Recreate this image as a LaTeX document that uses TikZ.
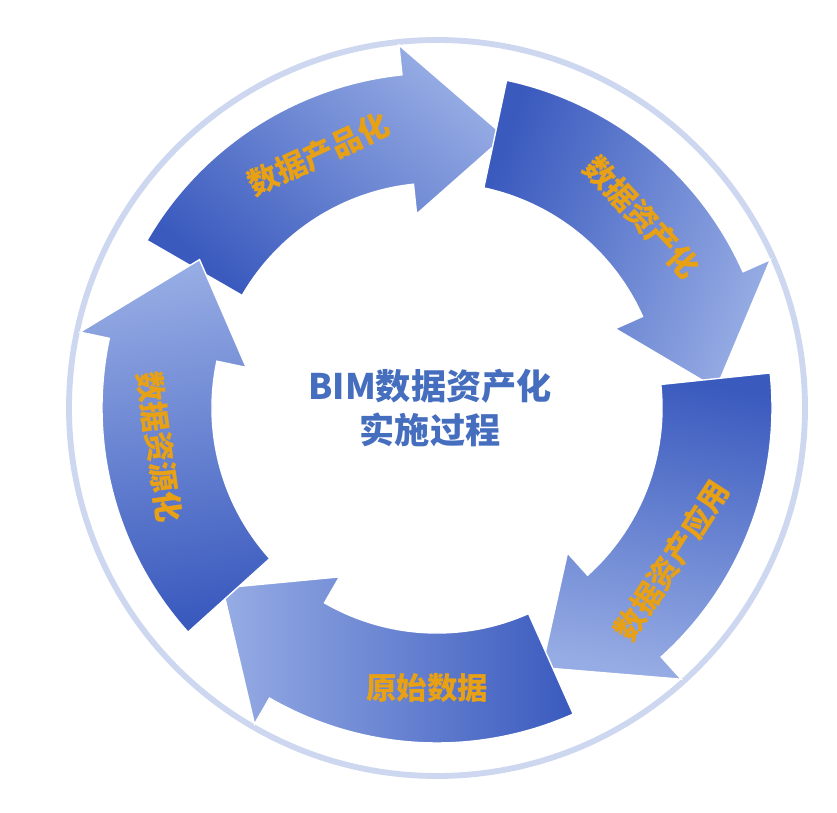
\documentclass[tikz,border=0pt]{standalone}
\usetikzlibrary{calc}
\usepackage{fontspec}
\newfontfamily\cjk{Noto Sans CJK SC}
\definecolor{bdark}{RGB}{58,90,190}
\definecolor{blight}{RGB}{150,172,228}
\definecolor{ringc}{RGB}{205,216,240}
\definecolor{labc}{RGB}{232,160,20}
\definecolor{midc}{RGB}{70,110,190}
\begin{document}
\begin{tikzpicture}[x=0.03cm,y=0.03cm,
  lab/.style={font=\cjk\bfseries\fontsize{26}{28}\selectfont,text=labc},
  mid/.style={font=\cjk\bfseries\fontsize{30}{38}\selectfont,text=midc,align=center}]
\useasboundingbox (0,0) rectangle (837,813);
\coordinate (c) at (437,405);
\draw[draw=ringc,line width=5pt,fill=white] (c) circle (368);
\def\ri{225}\def\ro{335}\def\hi{195}\def\ho{365}\def\rm{280}
\foreach \a/\sh in {150/-40,78/-110,6/170,-66/90,-138/10}{
  \pgfmathsetmacro\b{\a-54}
  \pgfmathsetmacro\t{\a-74}
  \path[shift={(c)},top color=blight,bottom color=bdark,shading angle=\sh,draw=white,line width=1.2pt]
    (\a:\ro) arc[start angle=\a,end angle=\b,radius=\ro] -- (\b:\ho) -- (\t:\rm) -- (\b:\hi) -- (\b:\ri)
    arc[start angle=\b,end angle=\a,radius=\ri] -- cycle;
}
\node[lab,rotate=25] (l1) at ($(c)+(115:\rm)$) {数据产品化};
\node[lab,rotate=-47] (l2) at ($(c)+(43:\rm)$) {数据资产化};
\node[lab,rotate=57] (l3) at ($(c)+(-33:\rm)$) {数据资产应用};
\node[lab] (l4) at ($(c)+(-92:\rm)$) {原始数据};
\node[lab,rotate=-82] (l5) at ($(c)+(188:\rm)$) {数据资源化};
\node[mid] (m) at (430,405) {BIM数据资产化\\实施过程};
\end{tikzpicture}
\end{document}
